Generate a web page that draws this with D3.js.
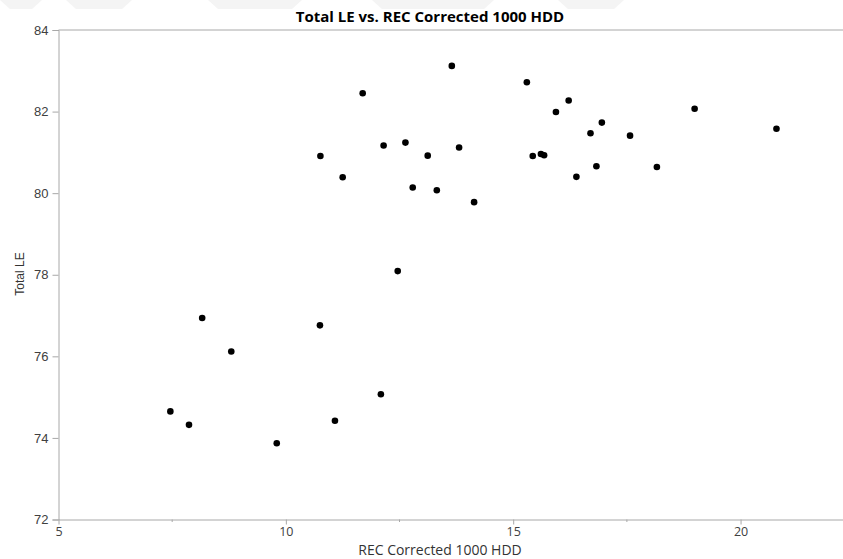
<!DOCTYPE html>
<html>
<head>
<meta charset="utf-8">
<script src="https://cdn.jsdelivr.net/npm/d3@7"></script>
<style>
  body { margin: 0; background: #fff; }
  svg { display: block; }
</style>
</head>
<body>
<div id="chart"></div>
<script>
// REC Corrected 1000 HDD (x) vs Total LE (y)
const hdd = [
  11.69, 10.76, 11.25,
  13.65, 15.30, 16.22, 15.94, 16.95, 16.70, 12.15, 12.63, 13.12, 13.81,
  15.43, 15.61, 15.68, 16.83, 16.39, 12.79, 13.32, 14.14,
  18.99, 17.57, 18.16, 20.79,
  12.46, 8.16, 8.80, 10.75, 12.09, 7.46, 7.87, 11.08, 9.80
];
const totalLE = [
  82.45, 80.91, 80.39,
  83.12, 82.72, 82.27, 81.99, 81.73, 81.47, 81.17, 81.24, 80.92, 81.12,
  80.91, 80.96, 80.93, 80.66, 80.40, 80.14, 80.07, 79.78,
  82.07, 81.41, 80.64, 81.58,
  78.09, 76.94, 76.12, 76.76, 75.07, 74.65, 74.32, 74.42, 73.87
];
const xTicks = [5, 10, 15, 20];
const xMinorTicks = [7.5, 12.5, 17.5];
const yTicks = [72, 74, 76, 78, 80, 82, 84];

const W = 843, H = 559;
const plotL = 58.5, plotR = 843, plotT = 30, plotB = 519.5;

const svg = d3.select("#chart").append("svg")
  .attr("width", W).attr("height", H);

// faint watermark band at the very top
const band = [[0, 42], [66, 132], [208, 302], [372, 494], [558, 624]];
svg.selectAll(".wm").data(band).enter().append("path")
  .attr("d", d => `M${d[0]},0 L${d[1]},0 L${d[1] - 10},9 L${d[0] + 10},9 Z`)
  .style("fill", "#f4f4f4");

const x = d3.scaleLinear().domain([5, 5 + (plotR - plotL) / 45.47]).range([plotL, plotR]);
const y = d3.scaleLinear().domain([72, 84]).range([plotB, plotT]);

const axisColor = "#a8a8a8";

// top frame line
svg.append("line")
  .attr("x1", plotL).attr("x2", plotR).attr("y1", plotT).attr("y2", plotT)
  .style("stroke", axisColor).style("stroke-width", 1);

// y axis
const yAxis = svg.append("g")
  .attr("transform", `translate(${plotL},0)`)
  .call(d3.axisLeft(y).tickValues(yTicks).tickSize(6).tickPadding(4).tickFormat(d3.format("d")));
yAxis.select(".domain").style("stroke", axisColor);
yAxis.selectAll(".tick line").style("stroke", axisColor);
yAxis.selectAll(".tick text")
  .style("font-family", "'Liberation Sans', Arial, sans-serif")
  .style("font-size", "13px").style("fill", "#404040");

// x axis
const xAxis = svg.append("g")
  .attr("transform", `translate(0,${plotB})`)
  .call(d3.axisBottom(x).tickValues(xTicks).tickSize(5).tickPadding(3).tickSizeOuter(0).tickFormat(d3.format("d")));
xAxis.select(".domain").style("stroke", axisColor);
xAxis.selectAll(".tick line").style("stroke", axisColor);
xAxis.selectAll(".tick text")
  .style("font-family", "'Open Sans', 'Noto Sans', sans-serif")
  .style("font-size", "12.5px").style("fill", "#404040");

svg.append("g").selectAll("line").data(xMinorTicks).enter().append("line")
  .attr("x1", d => x(d)).attr("x2", d => x(d))
  .attr("y1", plotB).attr("y2", plotB + 2.5)
  .style("stroke", axisColor);

// points
svg.append("g").selectAll("circle").data(hdd).enter().append("circle")
  .attr("cx", d => x(d))
  .attr("cy", (d, i) => y(totalLE[i]))
  .attr("r", 3.3)
  .style("fill", "#000");

// titles
svg.append("text")
  .attr("x", 430).attr("y", 21.5)
  .attr("text-anchor", "middle")
  .style("font-family", "'Open Sans', 'Noto Sans', sans-serif")
  .style("font-weight", "700").style("font-size", "15px")
  .text("Total LE vs. REC Corrected 1000 HDD");

svg.append("text")
  .attr("x", 440).attr("y", 555)
  .attr("text-anchor", "middle")
  .style("font-family", "'Open Sans', 'Noto Sans', sans-serif")
  .style("font-size", "14px").style("fill", "#333")
  .text("REC Corrected 1000 HDD");

svg.append("text")
  .attr("transform", "translate(24,274) rotate(-90)")
  .attr("text-anchor", "middle")
  .style("font-family", "'Liberation Sans', Arial, sans-serif")
  .style("font-size", "12px").style("fill", "#333")
  .text("Total LE");
</script>
</body>
</html>
